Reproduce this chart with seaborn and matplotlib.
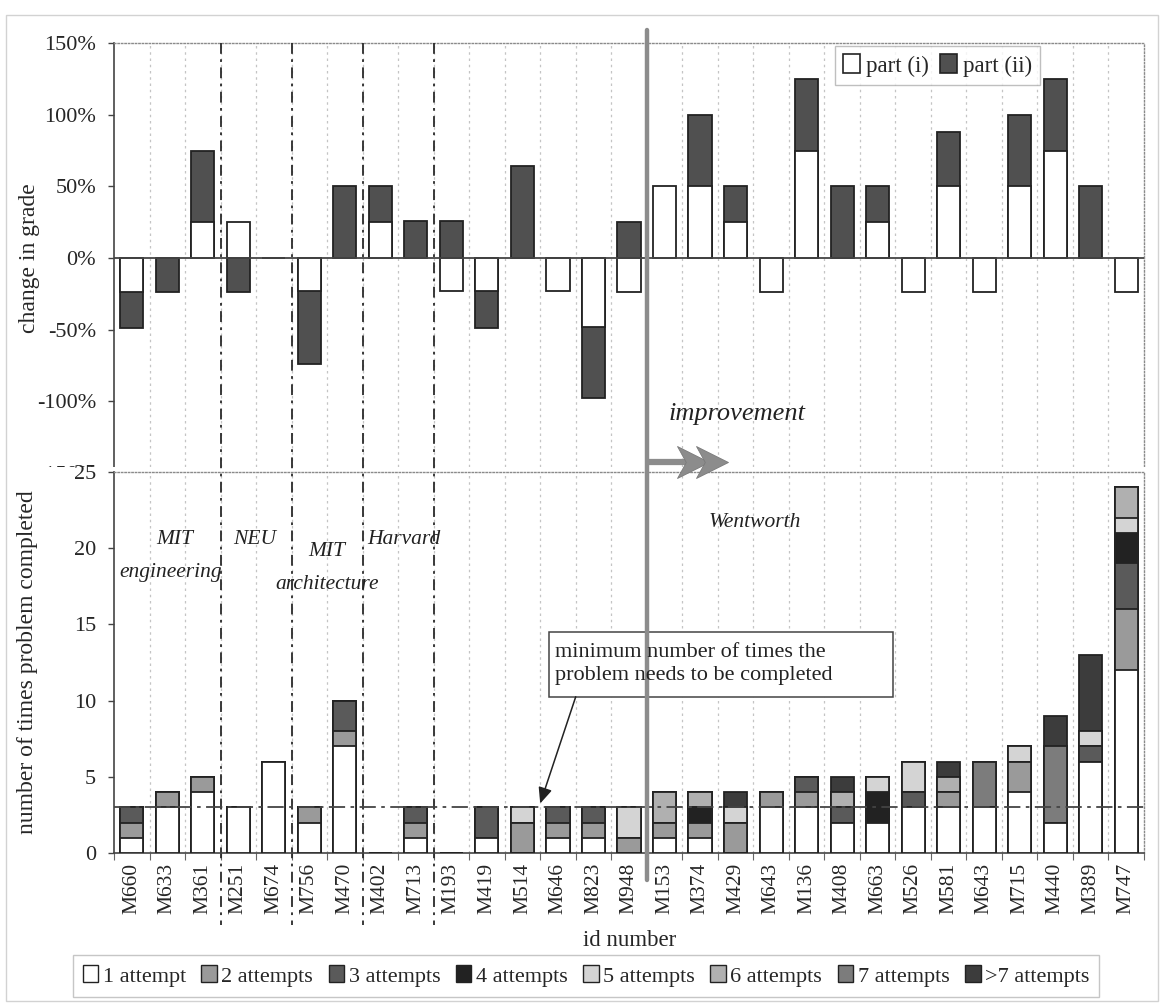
import numpy as np
import matplotlib
matplotlib.use("Agg")
import matplotlib.pyplot as plt
import seaborn as sns
import matplotlib.transforms as mtransforms
from matplotlib.patches import Patch, Rectangle
from matplotlib.lines import Line2D
from matplotlib.path import Path
from matplotlib.ticker import FuncFormatter

# ---------------- data ----------------
ids = ["M660", "M633", "M361", "M251", "M674", "M756", "M470", "M402", "M713",
       "M193", "M419", "M514", "M646", "M823", "M948", "M153", "M374", "M429",
       "M643", "M136", "M408", "M663", "M526", "M581", "M643", "M715", "M440",
       "M389", "M747"]

# change in grade (%)
part_i = [-24, 0, 25, 25, 0, -23, 0, 25, 0, -23, -23, 0, -23, -48, -24,
          50, 50, 25, -24, 75, 0, 25, -24, 50, -24, 50, 75, 0, -24]
part_ii = [-25, -24, 50, -24, 0, -51, 50, 25, 26, 26, -26, 64, 0, -50, 25,
           0, 50, 25, 0, 50, 50, 25, 0, 38, 0, 50, 50, 50, 0]

# number of times problem completed, by attempts
att_1 = [1, 3, 4, 3, 6, 2, 7, 0, 1, 0, 1, 0, 1, 1, 0, 1, 1, 0, 3, 3, 2, 2, 3, 3, 3, 4, 2, 6, 12]
att_2 = [1, 1, 1, 0, 0, 1, 1, 0, 1, 0, 0, 2, 1, 1, 1, 1, 1, 2, 1, 1, 0, 0, 0, 1, 0, 2, 0, 0, 4]
att_3 = [1, 0, 0, 0, 0, 0, 2, 0, 1, 0, 2, 0, 1, 1, 0, 0, 0, 0, 0, 1, 1, 0, 1, 0, 0, 0, 0, 1, 3]
att_4 = [0, 0, 0, 0, 0, 0, 0, 0, 0, 0, 0, 0, 0, 0, 0, 0, 1, 0, 0, 0, 0, 2, 0, 0, 0, 0, 0, 0, 2]
att_5 = [0, 0, 0, 0, 0, 0, 0, 0, 0, 0, 0, 1, 0, 0, 2, 0, 0, 1, 0, 0, 0, 1, 2, 0, 0, 1, 0, 1, 1]
att_6 = [0, 0, 0, 0, 0, 0, 0, 0, 0, 0, 0, 0, 0, 0, 0, 2, 1, 0, 0, 0, 1, 0, 0, 1, 0, 0, 0, 0, 2]
att_7 = [0, 0, 0, 0, 0, 0, 0, 0, 0, 0, 0, 0, 0, 0, 0, 0, 0, 0, 0, 0, 0, 0, 0, 0, 3, 0, 5, 0, 0]
att_8 = [0, 0, 0, 0, 0, 0, 0, 0, 0, 0, 0, 0, 0, 0, 0, 0, 0, 1, 0, 0, 1, 0, 0, 1, 0, 0, 2, 5, 0]

attempt_labels = ["1 attempt", "2 attempts", "3 attempts", "4 attempts",
                  "5 attempts", "6 attempts", "7 attempts", ">7 attempts"]
min_times = 3

group_separators = [2.5, 4.5, 6.5, 8.5]
improvement_boundary = 14.5

# ---------------- style ----------------
sns.set_theme(style="white")
plt.rcParams["font.family"] = ["Liberation Serif", "DejaVu Serif"]
plt.rcParams["axes.unicode_minus"] = False

W, H = 1162, 1007
fig = plt.figure(figsize=(W / 100, H / 100), dpi=100)


def fx(px):
    return px / W


def fy(py):
    return 1 - py / H


EDGE = "#222222"
DARK = "#505050"
att_colors = ["#ffffff", "#9a9a9a", "#5a5a5a", "#222222",
              "#d4d4d4", "#b0b0b0", "#7c7c7c", "#3c3c3c"]

ax1 = fig.add_axes([fx(114), fy(473), fx(1144) - fx(114), fy(43) - fy(473)])
ax2 = fig.add_axes([fx(114), fy(853), fx(1144) - fx(114), fy(472) - fy(853)])
ax1.set_zorder(0)
ax2.set_zorder(2)

# white chart area of lower chart hides the bottom of the upper chart
fig.patches.append(Rectangle((fx(8), fy(940)), fx(1150) - fx(8), fy(467) - fy(940),
                             transform=fig.transFigure, facecolor="white",
                             edgecolor="none", zorder=1))
# faint outer frame
fig.patches.append(Rectangle((fx(6), fy(1001)), fx(1158) - fx(6), fy(15) - fy(1001),
                             transform=fig.transFigure, facecolor="none",
                             edgecolor="#d2d2d2", lw=1.0, zorder=0.5))

n = len(ids)
pos = np.arange(n)
bar_kw = dict(width=0.65, saturation=1, errorbar=None, edgecolor=EDGE, linewidth=1.3)

# ---------------- top chart ----------------
pi = np.array(part_i, dtype=float)
pii = np.array(part_ii, dtype=float)
same = (np.sign(pi) == np.sign(pii)) & (pi != 0)
dark_end = np.where(same, pi + pii, pii)
sns.barplot(x=pos, y=dark_end, color=DARK, ax=ax1, zorder=3, **bar_kw)
sns.barplot(x=pos, y=pi, color="white", ax=ax1, zorder=4, **bar_kw)

ax1.set_xlim(-0.5, n - 0.5)
ax1.set_ylim(-150, 150)
ax1.set_yticks(np.arange(-150, 151, 50))
ax1.yaxis.set_major_formatter(FuncFormatter(lambda v, p: f"{v:.0f}%"))
ax1.set_xticks([])
ax1.set_xlabel("")
ax1.set_ylabel("change in grade", fontsize=17)
ax1.yaxis.set_label_coords(-0.072, 0.5)
ax1.tick_params(axis="y", left=True, length=4, width=1, pad=9, labelsize=16, color="#444")
ax1.axhline(0, color="#444444", lw=1.3, zorder=5)
for b in np.arange(0.5, n - 1, 1):
    ax1.axvline(b, color="#c4c4c4", lw=0.9, ls=(0, (2, 3)), zorder=1)
ax1.spines["left"].set_color("#444444")
ax1.spines["left"].set_linewidth(1.2)
ax1.spines["bottom"].set_visible(False)
for s in ["top", "right"]:
    ax1.spines[s].set_color("#8a8a8a")
    ax1.spines[s].set_linestyle((0, (1, 1.5)))
    ax1.spines[s].set_linewidth(1.0)

leg1 = ax1.legend(handles=[Patch(facecolor="white", edgecolor=EDGE, lw=1.2),
                           Patch(facecolor=DARK, edgecolor=EDGE, lw=1.2)],
                  labels=["part (i)", "part (ii)"], ncol=2, loc="upper left",
                  bbox_to_anchor=(0.70, 0.992), fontsize=16.5, frameon=True,
                  fancybox=False, edgecolor="#b0b0b0", handlelength=0.75,
                  handleheight=0.9, handletextpad=0.25, columnspacing=0.5,
                  borderpad=0.35, borderaxespad=0.0)
leg1.get_frame().set_linewidth(1.0)

ax1.text(15.1, -109, "improvement", fontsize=19, style="italic",
         ha="left", va="center", color="#222222")

# ---------------- bottom chart ----------------
stack = np.array([att_1, att_2, att_3, att_4, att_5, att_6, att_7, att_8], dtype=float)
cum = np.cumsum(stack, axis=0)
for k in range(len(attempt_labels) - 1, -1, -1):
    sns.barplot(x=pos, y=cum[k], color=att_colors[k], ax=ax2, zorder=3 + (8 - k) * 0.01, **bar_kw)

ax2.set_xlim(-0.5, n - 0.5)
ax2.set_ylim(0, 25)
ax2.set_yticks(np.arange(0, 26, 5))
ax2.set_xticks(pos)
ax2.set_xticklabels(ids, rotation=90, fontsize=15.5)
ax2.set_xticks(np.arange(-0.5, n, 1), minor=True)
ax2.tick_params(axis="x", which="major", length=0, pad=7)
ax2.tick_params(axis="x", which="minor", bottom=True, length=5, width=0.8, color="#666")
ax2.tick_params(axis="y", left=True, length=4, width=1, pad=9, labelsize=16, color="#444")
ax2.set_xlabel("")
ax2.set_ylabel("number of times problem completed", fontsize=17)
ax2.yaxis.set_label_coords(-0.074, 0.5)
for b in np.arange(0.5, n - 1, 1):
    ax2.axvline(b, color="#c4c4c4", lw=0.9, ls=(0, (2, 3)), zorder=1)
for s in ["left", "bottom"]:
    ax2.spines[s].set_color("#444444")
    ax2.spines[s].set_linewidth(1.2)
for s in ["top", "right"]:
    ax2.spines[s].set_color("#8a8a8a")
    ax2.spines[s].set_linestyle((0, (1, 1.5)))
    ax2.spines[s].set_linewidth(1.0)

# minimum line
ax2.axhline(min_times, color="#444444", lw=1.3, ls=(0, (9, 3, 2, 3)), zorder=6)

# group separators spanning both charts
blend = mtransforms.blended_transform_factory(ax2.transData, fig.transFigure)
for sx in group_separators:
    ax2.add_line(Line2D([sx, sx], [fy(43), fy(925)], transform=blend, color="#2a2a2a",
                        lw=1.3, ls=(0, (6, 3, 1.5, 3)), clip_on=False, zorder=2))
ax2.add_line(Line2D([improvement_boundary] * 2, [fy(30), fy(880)], transform=blend,
                    color="#8c8c8c", lw=3.2, clip_on=False, zorder=8))

# improvement arrow: shaft + two notched chevron heads
ay = fy(462)
ax2.add_line(Line2D([improvement_boundary, 15.75], [ay, ay], transform=blend,
                    color="#8c8c8c", lw=4.5, clip_on=False, zorder=9,
                    solid_capstyle="butt"))
chevron = Path([(-1.0, 1.0), (1.0, 0.0), (-1.0, -1.0), (-0.45, 0.0), (-1.0, 1.0)],
               [Path.MOVETO, Path.LINETO, Path.LINETO, Path.LINETO, Path.CLOSEPOLY])
for hx in [15.8, 16.35]:
    ax2.add_line(Line2D([hx], [ay], transform=blend, marker=chevron, markersize=23,
                        markerfacecolor="#8c8c8c", markeredgecolor="#7a7a7a",
                        markeredgewidth=0.6, linestyle="none", clip_on=False, zorder=9))

# group labels
gl_kw = dict(fontsize=15.5, style="italic", ha="center", va="center", color="#222222", zorder=7)
ax2.text(1.2, 20.6, "MIT", **gl_kw)
ax2.text(1.1, 18.4, "engineering", **gl_kw)
ax2.text(3.47, 20.6, "NEU", **gl_kw)
ax2.text(5.5, 19.8, "MIT", **gl_kw)
ax2.text(5.5, 17.6, "architecture", **gl_kw)
ax2.text(7.65, 20.6, "Harvard", **gl_kw)
ax2.text(17.55, 21.7, "Wentworth", **gl_kw)

# annotation box
ax2.add_patch(Rectangle((11.75, 10.25), 21.44 - 11.75, 14.5 - 10.25, facecolor="white",
                        edgecolor="#444444", lw=1.1, zorder=7))
ax2.text(11.92, 12.4, "minimum number of times the\nproblem needs to be completed",
         fontsize=16, ha="left", va="center", linespacing=1.3, color="#222222", zorder=8)
ax2.annotate("", xy=(11.5, 3.25), xytext=(12.5, 10.25),
             arrowprops=dict(arrowstyle="-|>,head_length=0.8,head_width=0.35",
                             color="#222222", lw=1.1, shrinkA=0, shrinkB=0), zorder=8)

# x label + bottom legend
fig.text(fx(630), fy(941), "id number", fontsize=16.5, ha="center", va="center")
handles = [Patch(facecolor=c, edgecolor=EDGE, lw=1.0) for c in att_colors]
leg2 = fig.legend(handles=handles, labels=attempt_labels, ncol=8, loc="center",
                  bbox_to_anchor=(fx(586), fy(976)), fontsize=16, frameon=True,
                  fancybox=False, edgecolor="#b8b8b8", handlelength=0.7,
                  handleheight=0.8, handletextpad=0.2, columnspacing=0.7,
                  borderpad=0.45)
leg2.get_frame().set_linewidth(1.0)

fig.savefig("out.png", dpi=100)
